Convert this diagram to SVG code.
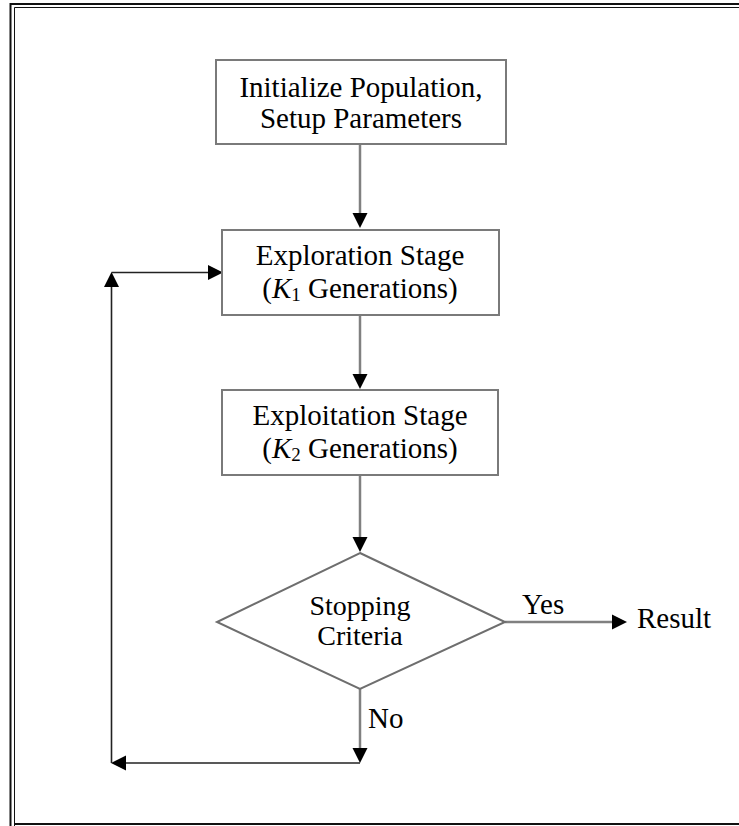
<svg xmlns="http://www.w3.org/2000/svg" width="739" height="826" viewBox="0 0 739 826">
<style>
.box{fill:#fff;stroke:#7a7a7a;stroke-width:2}
.dia{fill:#fff;stroke:#6e6e6e;stroke-width:2}
.t{font-family:"Liberation Serif","Times New Roman",serif;font-size:29px;fill:#000}
.d{font-family:"Liberation Serif","Times New Roman",serif;font-size:28px;fill:#000}
.c{fill:none;stroke:#808080;stroke-width:2.5}
.k{fill:none;stroke:#222;stroke-width:1.6}
.frame{fill:none;stroke:#111}
</style>
<defs>
<marker id="ah" markerUnits="userSpaceOnUse" markerWidth="17" markerHeight="17" refX="0" refY="7.5" orient="auto" overflow="visible">
<path d="M0,0 L15,7.5 L0,15 Z" fill="#000"/>
</marker>
</defs>
<rect width="739" height="826" fill="#fff"/>
<g id="frame">
<path class="frame" d="M10.5,826 V4 H739" stroke-width="2"/>
<path class="frame" d="M14.5,826 V7.5 H739" stroke-width="1"/>
<path class="frame" d="M14,824 H739" stroke-width="2"/>
</g>
<g id="connectors">
<path class="c" d="M360,144 V213" marker-end="url(#ah)"/>
<path class="c" d="M360,315 V374" marker-end="url(#ah)"/>
<path class="c" d="M360,475 V537" marker-end="url(#ah)"/>
<path class="c" d="M505,622 H612" marker-end="url(#ah)"/>
<path class="c" d="M360,689 V748" marker-end="url(#ah)"/>
<path class="k" d="M360,763 H126" marker-end="url(#ah)"/>
<path class="k" d="M111.5,763 V287" marker-end="url(#ah)"/>
<path class="k" d="M111.5,272.5 H208" marker-end="url(#ah)"/>
</g>
<g id="init">
<rect class="box" x="216" y="60" width="290" height="84"/>
<text class="t" x="361" y="97" text-anchor="middle">Initialize Population,</text>
<text class="t" x="361" y="128" text-anchor="middle">Setup Parameters</text>
</g>
<g id="exploration">
<rect class="box" x="222" y="230" width="277" height="85"/>
<text class="t" x="360" y="265" text-anchor="middle">Exploration Stage</text>
<text class="t" x="360" y="298" text-anchor="middle">(<tspan font-style="italic">K</tspan><tspan font-size="19" dy="3">1</tspan><tspan dy="-3"> Generations)</tspan></text>
</g>
<g id="exploitation">
<rect class="box" x="222" y="390" width="276" height="85"/>
<text class="t" x="360" y="425" text-anchor="middle">Exploitation Stage</text>
<text class="t" x="360" y="458" text-anchor="middle">(<tspan font-style="italic">K</tspan><tspan font-size="19" dy="3">2</tspan><tspan dy="-3"> Generations)</tspan></text>
</g>
<g id="stopping">
<polygon class="dia" points="360,553 505,622 360,689 217,622"/>
<text class="d" x="360" y="615" text-anchor="middle">Stopping</text>
<text class="d" x="360" y="645" text-anchor="middle">Criteria</text>
</g>
<g id="labels">
<text class="t" x="522" y="614">Yes</text>
<text class="t" x="368" y="728">No</text>
</g>
<g id="result">
<text class="t" x="637" y="628">Result</text>
</g>
</svg>
